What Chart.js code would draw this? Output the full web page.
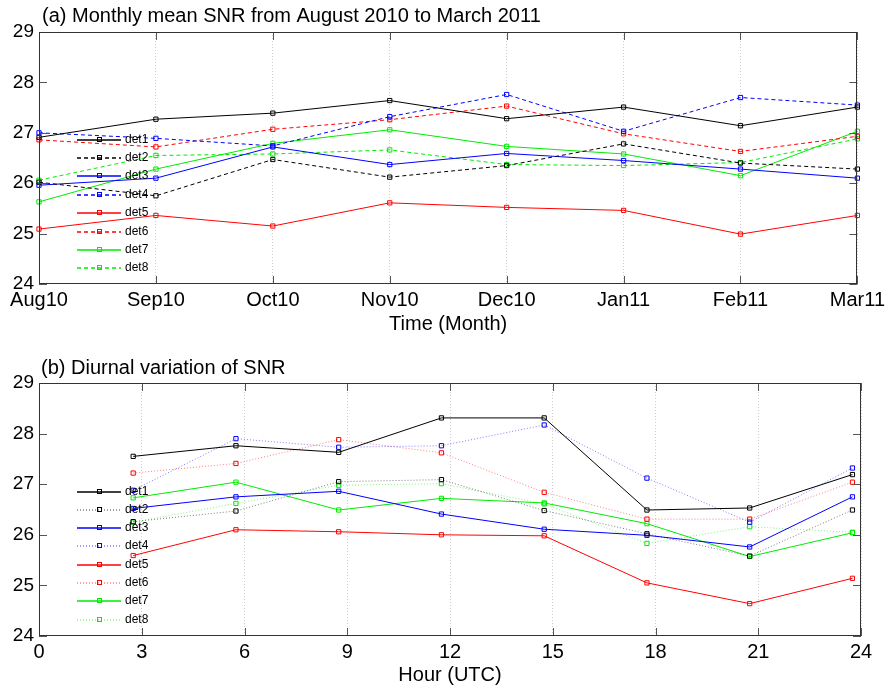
<!DOCTYPE html>
<html>
<head>
<meta charset="utf-8">
<script src="https://cdn.jsdelivr.net/npm/chart.js@4.4.1/dist/chart.umd.min.js"></script>
<style>
  html, body { margin: 0; padding: 0; background: #fff; }
  canvas { display: block; }
</style>
</head>
<body>
<canvas id="monthly" width="889" height="344"></canvas>
<canvas id="diurnal" width="889" height="344"></canvas>
<script>
// ---- data ----
const MONTHS = ["Aug10", "Sep10", "Oct10", "Nov10", "Dec10", "Jan11", "Feb11", "Mar11"];
const DETECTORS = ["det1", "det2", "det3", "det4", "det5", "det6", "det7", "det8"];

// (a) monthly mean SNR
const mDet1 = [26.91, 27.27, 27.39, 27.64, 27.28, 27.51, 27.14, 27.51];
const mDet2 = [26.02, 25.75, 26.47, 26.12, 26.35, 26.78, 26.40, 26.28];
const mDet3 = [25.96, 26.10, 26.72, 26.37, 26.59, 26.45, 26.28, 26.10];
const mDet4 = [27.00, 26.89, 26.74, 27.32, 27.76, 27.03, 27.70, 27.55];
const mDet5 = [25.09, 25.36, 25.15, 25.61, 25.52, 25.46, 24.99, 25.36];
const mDet6 = [26.86, 26.72, 27.07, 27.26, 27.53, 26.98, 26.63, 26.93];
const mDet7 = [25.63, 26.28, 26.79, 27.06, 26.73, 26.58, 26.15, 27.03];
const mDet8 = [26.06, 26.55, 26.58, 26.66, 26.37, 26.35, 26.41, 26.88];

// (b) diurnal variation, sampled at these hours (UTC)
const HOURS = [2.75, 5.75, 8.75, 11.75, 14.75, 17.75, 20.75, 23.75];
const hDet1 = [27.55, 27.76, 27.63, 28.31, 28.31, 26.49, 26.53, 27.19];
const hDet2 = [26.26, 26.47, 27.05, 27.09, 26.48, 26.02, 25.58, 26.49];
const hDet3 = [26.52, 26.75, 26.86, 26.41, 26.11, 25.99, 25.76, 26.75];
const hDet4 = [26.88, 27.90, 27.73, 27.76, 28.17, 27.12, 26.25, 27.32];
const hDet5 = [25.59, 26.10, 26.06, 26.00, 25.98, 25.05, 24.64, 25.14];
const hDet6 = [27.22, 27.41, 27.88, 27.62, 26.84, 26.31, 26.31, 27.04];
const hDet7 = [26.73, 27.04, 26.49, 26.72, 26.63, 26.22, 25.57, 26.04];
const hDet8 = [26.25, 26.62, 26.98, 27.01, 26.61, 25.83, 26.16, 26.05];

const monthlySeries = [mDet1, mDet2, mDet3, mDet4, mDet5, mDet6, mDet7, mDet8];
const diurnalSeries = [hDet1, hDet2, hDet3, hDet4, hDet5, hDet6, hDet7, hDet8];

// ---- styling ----
const FONT = "'Liberation Sans', Arial, sans-serif";
const rgb = ["0,0,0", "0,0,0", "0,0,255", "0,0,255", "255,0,0", "255,0,0", "0,235,0", "0,235,0"];
const DASHED = [4, 3];
const DOTTED = [1, 2];

// box + inward tick marks, matlab style
const frame = {
  id: "frame",
  afterDatasetsDraw(chart) {
    const { ctx, chartArea: a, scales } = chart;
    const L = 8;
    ctx.save();
    ctx.strokeStyle = "#555";
    ctx.lineWidth = 1;
    ctx.beginPath();
    scales.x.ticks.forEach((t, i) => {
      const x = Math.round(scales.x.getPixelForTick(i)) + 0.5;
      ctx.moveTo(x, a.top); ctx.lineTo(x, a.top + L);
      ctx.moveTo(x, a.bottom); ctx.lineTo(x, a.bottom - L);
    });
    scales.y.ticks.forEach((t, i) => {
      const y = Math.round(scales.y.getPixelForTick(i)) + 0.5;
      ctx.moveTo(a.left, y); ctx.lineTo(a.left + L, y);
      ctx.moveTo(a.right, y); ctx.lineTo(a.right - L, y);
    });
    ctx.stroke();
    ctx.strokeStyle = "#333";
    ctx.strokeRect(Math.round(a.left) + 0.5, Math.round(a.top) + 0.5,
      Math.round(a.width) - 1, Math.round(a.height) - 1);
    ctx.restore();
  }
};

// legend drawn inside the axes, over the lines
const innerLegend = {
  id: "innerLegend",
  afterDatasetsDraw(chart, args, o) {
    const ctx = chart.ctx;
    ctx.save();
    ctx.font = "12px " + FONT;
    ctx.textBaseline = "middle";
    ctx.textAlign = "left";
    chart.data.datasets.forEach((ds, i) => {
      const y = Math.round(o.top + i * o.step);
      ctx.lineWidth = 1.3;
      ctx.strokeStyle = ds.borderColor;
      ctx.setLineDash(ds.borderDash);
      ctx.beginPath();
      ctx.moveTo(o.left, y);
      ctx.lineTo(o.left + o.width, y);
      ctx.stroke();
      ctx.setLineDash([]);
      ctx.lineWidth = 1;
      ctx.strokeStyle = ds.pointBorderColor;
      const mx = Math.round(o.left + o.width / 2) + 0.5;
      ctx.strokeRect(mx - 2, y - 2.5, 4, 4);
      ctx.fillStyle = "#000";
      ctx.fillText(ds.label, o.left + o.width + 4, y);
    });
    ctx.restore();
  }
};

// panel title, left aligned to the axes box
const panelTitle = {
  id: "panelTitle",
  afterDraw(chart, args, o) {
    const ctx = chart.ctx;
    ctx.save();
    ctx.font = "20px " + FONT;
    ctx.fillStyle = "#000";
    ctx.textBaseline = "alphabetic";
    ctx.fillText(o.text, o.x, o.y);
    ctx.restore();
  }
};

function makeDatasets(series, dash, dashAlpha, xs) {
  return series.map((vals, i) => {
    const alt = i % 2 === 1;
    const full = `rgb(${rgb[i]})`;
    return {
      label: DETECTORS[i],
      data: xs ? vals.map((v, j) => ({ x: xs[j], y: v })) : vals,
      borderColor: alt ? `rgba(${rgb[i]},${dashAlpha})` : full,
      backgroundColor: "transparent",
      borderWidth: 1,
      borderDash: alt ? dash : [],
      pointStyle: "rect",
      pointRadius: 3,
      pointBorderWidth: 1,
      pointBorderColor: full,
      pointBackgroundColor: "transparent",
      tension: 0,
      clip: false,
    };
  });
}

function yAxis() {
  return {
    min: 24, max: 29,
    ticks: { stepSize: 1, color: "#000", padding: 5, font: { family: FONT, size: 19 } },
    grid: { display: false, drawTicks: false },
    border: { display: false },
    afterFit: (s) => { s.width = 39; },
  };
}

new Chart(document.getElementById("monthly"), {
  type: "line",
  data: { labels: MONTHS, datasets: makeDatasets(monthlySeries, DASHED, 1) },
  options: {
    responsive: false,
    animation: false,
    layout: { padding: { top: 32, right: 28, left: 0, bottom: 0 } },
    plugins: {
      legend: { display: false },
      tooltip: { enabled: false },
      panelTitle: { text: "(a) Monthly mean SNR from August 2010 to March 2011", x: 42, y: 21.5 },
      innerLegend: { left: 77, width: 44, top: 139.5, step: 18.4 },
    },
    scales: {
      x: {
        offset: false,
        ticks: { color: "#000", padding: 4, autoSkip: false, maxRotation: 0, font: { family: FONT, size: 20 } },
        grid: { color: "#cfcfcf", drawTicks: false, lineWidth: 1 },
        border: { display: false, dash: DOTTED },
        title: { display: true, text: "Time (Month)", color: "#000", font: { family: FONT, size: 20 }, padding: { top: 0, bottom: 8 } },
        afterFit: (s) => { s.height = 60; },
      },
      y: yAxis(),
    },
  },
  plugins: [frame, innerLegend, panelTitle],
});

new Chart(document.getElementById("diurnal"), {
  type: "line",
  data: { datasets: makeDatasets(diurnalSeries, DOTTED, 0.5, HOURS) },
  options: {
    responsive: false,
    animation: false,
    layout: { padding: { top: 39, right: 28, left: 0, bottom: 0 } },
    plugins: {
      legend: { display: false },
      tooltip: { enabled: false },
      panelTitle: { text: "(b) Diurnal variation of SNR", x: 41, y: 29.5 },
      innerLegend: { left: 77, width: 44, top: 147.5, step: 18.3 },
    },
    scales: {
      x: {
        type: "linear",
        min: 0, max: 24,
        ticks: { stepSize: 3, color: "#000", padding: 4, maxRotation: 0, font: { family: FONT, size: 20 } },
        grid: { color: "#cfcfcf", drawTicks: false, lineWidth: 1 },
        border: { display: false, dash: DOTTED },
        title: { display: true, text: "Hour (UTC)", color: "#000", font: { family: FONT, size: 20 }, padding: { top: 0, bottom: 1 } },
        afterFit: (s) => { s.height = 52; },
      },
      y: yAxis(),
    },
  },
  plugins: [frame, innerLegend, panelTitle],
});
</script>
</body>
</html>
